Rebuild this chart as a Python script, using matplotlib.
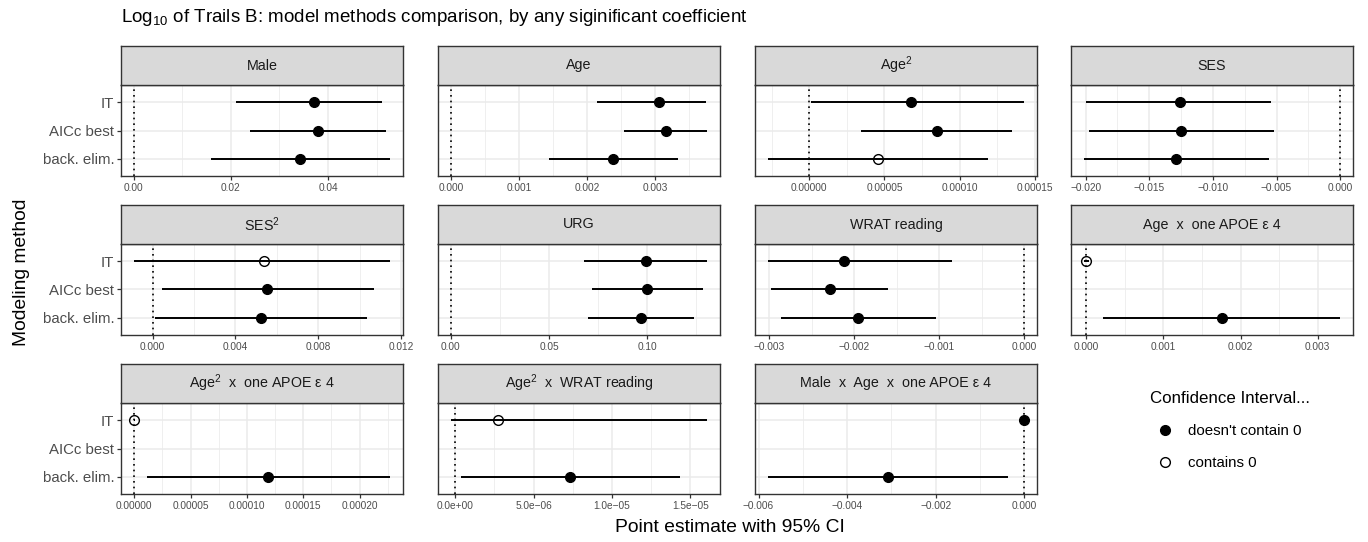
import numpy as np
import matplotlib
matplotlib.use("Agg")
import matplotlib.pyplot as plt
from matplotlib.lines import Line2D

plt.rcParams["font.family"] = ["Liberation Sans", "DejaVu Sans"]
plt.rcParams["mathtext.fontset"] = "custom"
plt.rcParams["mathtext.rm"] = "Liberation Sans"
plt.rcParams["mathtext.it"] = "Liberation Sans:italic"
plt.rcParams["mathtext.bf"] = "Liberation Sans:bold"

# -----------------------------
# Data (order: IT, AICc best, back. elim.)
# -----------------------------
methods = ["IT", "AICc best", "back. elim."]
nan = np.nan

terms = [
    "Male", "Age", "Age$^2$", "SES",
    "SES$^2$", "URG", "WRAT reading", "Age  x  one APOE \u03b5 4",
    "Age$^2$  x  one APOE \u03b5 4", "Age$^2$  x  WRAT reading",
    "Male  x  Age  x  one APOE \u03b5 4",
]

male_est = [0.0371, 0.0379, 0.0343]
male_lo = [0.0210, 0.0239, 0.0158]
male_hi = [0.0512, 0.0520, 0.0528]

age_est = [0.00305, 0.00315, 0.00238]
age_lo = [0.00214, 0.00254, 0.00144]
age_hi = [0.00374, 0.00376, 0.00333]

age2_est = [6.73e-5, 8.47e-5, 4.60e-5]
age2_lo = [1.4e-6, 3.41e-5, -2.75e-5]
age2_hi = [1.428e-4, 1.344e-4, 1.188e-4]

ses_est = [-0.01262, -0.01248, -0.01286]
ses_lo = [-0.02000, -0.01973, -0.02014]
ses_hi = [-0.00544, -0.00520, -0.00561]

ses2_est = [0.005376, 0.005548, 0.005226]
ses2_lo = [-0.000903, 0.000473, 0.000108]
ses2_hi = [0.01147, 0.01069, 0.010366]

urg_est = [0.0995, 0.1000, 0.0968]
urg_lo = [0.0676, 0.0718, 0.0698]
urg_hi = [0.1306, 0.1286, 0.1240]

wrat_est = [-0.002118, -0.002287, -0.001949]
wrat_lo = [-0.003015, -0.002974, -0.002856]
wrat_hi = [-0.000846, -0.001600, -0.001036]

age_apoe_est = [0.000003, nan, 0.00176]
age_apoe_lo = [-0.00003, nan, 0.000219]
age_apoe_hi = [0.00004, nan, 0.00329]

age2_apoe_est = [1e-7, nan, 1.188e-4]
age2_apoe_lo = [-4e-7, nan, 1.14e-5]
age2_apoe_hi = [6e-7, nan, 2.271e-4]

age2_wrat_est = [2.75e-6, nan, 7.34e-6]
age2_wrat_lo = [-2.75e-7, nan, 3.6e-7]
age2_wrat_hi = [1.608e-5, nan, 1.437e-5]

male_age_apoe_est = [-0.000005, nan, -0.00308]
male_age_apoe_lo = [-0.000012, nan, -0.00579]
male_age_apoe_hi = [-0.000002, nan, -0.000365]

est_all = [male_est, age_est, age2_est, ses_est, ses2_est, urg_est, wrat_est,
           age_apoe_est, age2_apoe_est, age2_wrat_est, male_age_apoe_est]
lo_all = [male_lo, age_lo, age2_lo, ses_lo, ses2_lo, urg_lo, wrat_lo,
          age_apoe_lo, age2_apoe_lo, age2_wrat_lo, male_age_apoe_lo]
hi_all = [male_hi, age_hi, age2_hi, ses_hi, ses2_hi, urg_hi, wrat_hi,
          age_apoe_hi, age2_apoe_hi, age2_wrat_hi, male_age_apoe_hi]

tick_vals = [
    [0.0, 0.02, 0.04],
    [0.0, 0.001, 0.002, 0.003],
    [0.0, 0.00005, 0.0001, 0.00015],
    [-0.02, -0.015, -0.01, -0.005, 0.0],
    [0.0, 0.004, 0.008, 0.012],
    [0.0, 0.05, 0.10],
    [-0.003, -0.002, -0.001, 0.0],
    [0.0, 0.001, 0.002, 0.003],
    [0.0, 0.00005, 0.0001, 0.00015, 0.0002],
    [0.0, 5e-6, 1e-5, 1.5e-5],
    [-0.006, -0.004, -0.002, 0.0],
]
tick_labels = [
    ["0.00", "0.02", "0.04"],
    ["0.000", "0.001", "0.002", "0.003"],
    ["0.00000", "0.00005", "0.00010", "0.00015"],
    ["\u22120.020", "\u22120.015", "\u22120.010", "\u22120.005", "0.000"],
    ["0.000", "0.004", "0.008", "0.012"],
    ["0.00", "0.05", "0.10"],
    ["\u22120.003", "\u22120.002", "\u22120.001", "0.000"],
    ["0.000", "0.001", "0.002", "0.003"],
    ["0.00000", "0.00005", "0.00010", "0.00015", "0.00020"],
    ["0.0e+00", "5.0e\u221206", "1.0e\u221205", "1.5e\u221205"],
    ["\u22120.006", "\u22120.004", "\u22120.002", "0.000"],
]

# -----------------------------
# Layout (pixels)
# -----------------------------
W, H = 1368, 542
col_left = [121, 438, 755, 1071]
row_top = [85, 244, 403]
PW, PH, SH = 282, 91, 39


def box(left, top, w, h):
    return [left / W, 1 - (top + h) / H, w / W, h / H]


fig = plt.figure(figsize=(W / 100, H / 100), dpi=100)

for i, term in enumerate(terms):
    r, c = divmod(i, 4)
    ax = fig.add_axes(box(col_left[c], row_top[r], PW, PH))
    sax = fig.add_axes(box(col_left[c], row_top[r] - SH, PW, SH))

    # strip
    sax.set_facecolor("#D9D9D9")
    sax.set_xticks([])
    sax.set_yticks([])
    for s in sax.spines.values():
        s.set_color("#333333")
        s.set_linewidth(1.0)
    sax.text(0.5, 0.5, term, ha="center", va="center", fontsize=10.3,
             color="#1A1A1A", transform=sax.transAxes)

    est = np.array(est_all[i], dtype=float)
    lo = np.array(lo_all[i], dtype=float)
    hi = np.array(hi_all[i], dtype=float)
    y = np.arange(len(methods))
    ok = ~np.isnan(est)
    contains = (lo <= 0) & (hi >= 0)

    ax.axvline(0, color="black", lw=1.2, ls=(0, (1, 2.4)), zorder=2)
    ax.hlines(y[ok], lo[ok], hi[ok], color="black", lw=1.4, zorder=3)
    m = ok & ~contains
    ax.plot(est[m], y[m], "o", ms=7, color="black", zorder=4)
    m = ok & contains
    # hollow circle (ggplot shape 1): the interval shows through
    ax.plot(est[m], y[m], "o", ms=7, mfc="none", mec="black", mew=1.0,
            zorder=4)

    # ggplot-like limits: data + zero line, 5% expansion
    xmin = min(np.nanmin(lo), 0.0)
    xmax = max(np.nanmax(hi), 0.0)
    pad = 0.05 * (xmax - xmin)
    tv = tick_vals[i]
    step = tv[1] - tv[0]
    minor = [tv[0] - step / 2] + [t + step / 2 for t in tv]
    ax.set_xticks(tv)
    ax.set_xticklabels(tick_labels[i], fontsize=7.3, color="#4D4D4D")
    ax.set_xticks(minor, minor=True)
    ax.set_xlim(xmin - pad, xmax + pad)
    ax.set_ylim(len(methods) - 0.4, -0.6)

    ax.set_yticks(y)
    if c == 0:
        ax.set_yticklabels(methods, fontsize=10.8, color="#4D4D4D")
    else:
        ax.tick_params(axis="y", left=False, labelleft=False)

    ax.tick_params(which="major", length=2.75, width=0.9, color="#333333",
                   pad=2)
    ax.tick_params(which="minor", length=0)
    ax.set_axisbelow(True)
    ax.grid(which="major", color="#EBEBEB", lw=1.1)
    ax.grid(which="minor", axis="x", color="#EBEBEB", lw=0.55)
    for s in ax.spines.values():
        s.set_color("#333333")
        s.set_linewidth(1.0)

# -----------------------------
# Titles and legend
# -----------------------------
fig.text(121 / W, 1 - 18 / H,
         "Log$_{10}$ of Trails B: model methods comparison, by any "
         "siginificant coefficient", fontsize=13.5, va="center", ha="left")
fig.text(730 / W, 1 - 527 / H, "Point estimate with 95% CI", fontsize=13.9,
         ha="center", va="center")
fig.text(22 / W, 1 - 272 / H, "Modeling method", fontsize=13.9,
         rotation=90, ha="center", va="center")

handles = [
    Line2D([], [], ls="", marker="o", ms=7, color="black"),
    Line2D([], [], ls="", marker="o", ms=7, mfc="none", mec="black",
           mew=1.0),
]
leg = fig.legend(handles, ["doesn't contain 0", "contains 0"],
                 title="Confidence Interval...", loc="upper left",
                 bbox_to_anchor=(1150 / W, 1 - 391 / H), frameon=False,
                 fontsize=10.8, title_fontsize=12.2, handlelength=2,
                 handletextpad=0.5, labelspacing=1.2, borderpad=0,
                 borderaxespad=0)
leg._legend_box.align = "left"

fig.savefig("out.png", dpi=100)
